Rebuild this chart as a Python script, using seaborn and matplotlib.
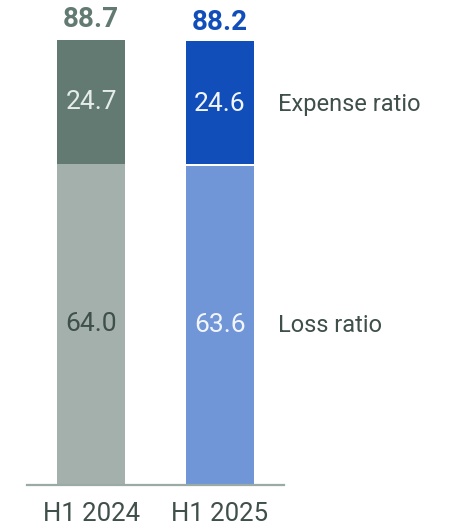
import matplotlib
matplotlib.use("Agg")
import matplotlib.pyplot as plt
import seaborn as sns
import pandas as pd

# data
periods = ["H1 2024", "H1 2025"]
loss_ratio = [64.0, 63.6]
expense_ratio = [24.7, 24.6]
combined_ratio = [88.7, 88.2]

loss_colors = ["#A3B0AC", "#7096D8"]
expense_colors = ["#627A72", "#124EBA"]
total_colors = ["#627A72", "#124EBA"]
loss_text = ["#3F4F4A", "#F2F5FB"]
exp_text = ["#E6ECEA", "#F2F5FB"]
dark = "#3F4F4A"
gap = 0.4  # thin white seam between the two segments

sns.set_theme(style="white")
plt.rcParams["font.family"] = ["Roboto", "DejaVu Sans"]

df = pd.DataFrame({"period": periods, "loss": loss_ratio,
                   "expense": expense_ratio, "total": combined_ratio})
df["expense_drawn"] = df["expense"] - gap

fig = plt.figure(figsize=(4.54, 5.29), dpi=100)
ax = fig.add_axes([27 / 454, 44 / 529, 257 / 454, 445 / 529])

sns.barplot(data=df, x="period", y="loss", hue="period", palette=loss_colors,
            saturation=1, width=0.53, legend=False, ax=ax, linewidth=0)
sns.barplot(data=df, x="period", y="expense_drawn", hue="period", palette=expense_colors,
            saturation=1, width=0.53, legend=False, ax=ax, linewidth=0,
            bottom=(df["loss"] + gap).values)

for i, row in df.iterrows():
    ax.text(i, row["loss"] / 2, f"{row['loss']:.1f}", ha="center", va="center",
            fontsize=19, color=loss_text[i])
    ax.text(i, row["loss"] + row["expense"] / 2, f"{row['expense']:.1f}",
            ha="center", va="center", fontsize=19, color=exp_text[i])
    ax.text(i, row["total"] + 2.5, f"{row['total']:.1f}", ha="center", va="baseline",
            fontsize=20, fontweight="bold", color=total_colors[i], clip_on=False)

ax.text(1.455, loss_ratio[1] + expense_ratio[1] / 2, "Expense ratio", ha="left",
        va="center", fontsize=17, color=dark, clip_on=False)
ax.text(1.455, loss_ratio[1] / 2, "Loss ratio", ha="left", va="center",
        fontsize=17, color=dark, clip_on=False)

ax.set_xlim(-0.5, 1.5)
ax.set_ylim(0, max(combined_ratio))
ax.set_xlabel("")
ax.set_ylabel("")
ax.set_yticks([])
ax.tick_params(axis="x", length=0, pad=12, labelsize=18.5, labelcolor=dark)
for s in ["top", "right", "left"]:
    ax.spines[s].set_visible(False)
ax.spines["bottom"].set_color("#9AABA6")
ax.spines["bottom"].set_linewidth(1.6)
ax.spines["bottom"].set_zorder(5)

fig.savefig("out.png", dpi=100)
